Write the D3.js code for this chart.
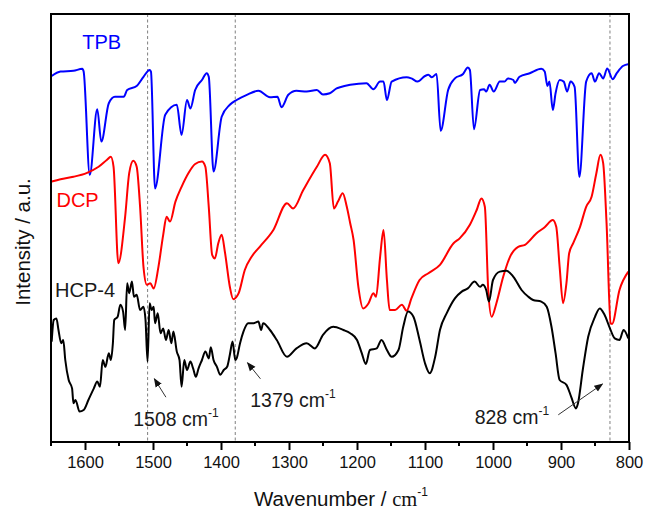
<!DOCTYPE html>
<html lang="en">
<head>
  <meta charset="UTF-8">
  <title>FTIR spectra</title>
  <script src="https://cdn.jsdelivr.net/npm/d3@7"></script>
  <style>
    body { margin: 0; padding: 0; background: #fff; }
    svg text { font-family: "Liberation Sans", Arial, sans-serif; }
  </style>
</head>
<body>
<div id="chart"></div>
<script>
// wavenumber (cm-1) / intensity (a.u.)
var tpbWn = [1649,1636,1617,1604,1602,1593,1582,1576,1565,1556,1543,1538,1524,1514,1505,1503,1497,1482,1465,1458,1450,1445,1438,1428,1421,1418,1411,1399,1387,1377,1362,1345,1328,1317,1311,1301,1289,1274,1259,1250,1240,1230,1225,1210,1186,1176,1166,1161,1156,1149,1127,1120,1111,1100,1095,1090,1083,1077,1066,1056,1044,1037,1034,1028,1019,1013,1010,1005,999,990,983,978,970,968,961,946,929,924,920,917,912,908,902,896,891,886,880,873,863,855,850,844,838,832,824,818,809,800];
var tpbVal = [91.5,92.6,92.8,93.3,92.6,66.8,83.2,75.1,84.7,86.3,86.3,88,89,91.3,93,92.6,63.4,81.8,84.3,76.8,85.5,83.4,88,90.5,92.2,91.3,67.6,81.3,84.3,85.5,86.8,87.8,86.2,86.3,83.7,86.8,87.8,87.6,88,86.9,87.2,88.4,88.7,89.3,89.7,88.2,90.1,90.1,85.5,90.1,91.2,90.9,90.1,91.5,91.8,91.2,92,77.8,88,90.9,92,93.6,93,78.2,88,88.2,87.6,89.3,87.6,90.1,90.1,90.9,90.5,89.8,91.3,92.2,93.3,92.6,89,90.1,83,87.2,90.5,90.1,87.6,90.1,88.8,66.3,90.1,92.2,90.1,92.2,90.9,93.4,90.7,92.2,94,94.5];

var dcpWn = [1649,1636,1617,1597,1580,1568,1562,1558,1551,1541,1535,1529,1524,1519,1514,1509,1504,1499,1492,1485,1480,1475,1467,1458,1448,1438,1428,1423,1418,1413,1409,1404,1399,1394,1387,1382,1374,1365,1355,1343,1323,1303,1294,1279,1259,1247,1240,1234,1228,1221,1215,1210,1205,1198,1191,1183,1176,1172,1166,1161,1156,1152,1144,1134,1127,1120,1108,1095,1078,1058,1049,1034,1024,1017,1012,1007,1002,995,985,975,963,953,936,924,912,907,902,897,892,888,882,872,863,855,848,842,838,833,827,825,814,801];
var dcpVal = [65.1,65.7,66.3,67.3,68.8,70.5,71.3,68.8,44.7,56.3,67.2,70.3,68.8,58.8,43.8,39.3,39.7,38.4,43.8,51.8,56.3,55.1,60.1,63.8,67.2,69.5,70.1,68.8,58.8,46.8,45.9,49.7,51.8,47.2,38.8,35.7,37.2,43,46.3,48.8,53,59.7,58.4,63,68.8,71.8,69.7,58.4,60.1,62.2,58.8,54.7,50.5,38.8,33.4,34.7,37.2,36.3,46.3,53,40.5,33,33,34.3,32.8,35.9,40.5,42.2,44.3,49.7,50.9,54.3,58,60.9,58.8,38,31.3,34.7,41.3,46.3,48.8,49.3,52.2,53.7,55.5,53.8,43.8,34.7,39.7,47.2,49.7,53.8,58.8,61.3,67.2,71.8,69.7,54.7,29.7,29.5,38,42.6];

var hcpWn = [1649,1646,1642,1639,1635,1632,1629,1624,1619,1617,1614,1608,1602,1595,1587,1582,1578,1574,1570,1565,1562,1559,1557,1552,1548,1544,1541,1538,1535,1531,1528,1524,1519,1514,1511,1508,1505,1502,1499,1497,1493,1489,1485,1481,1477,1473,1470,1465,1461,1458,1454,1450,1445,1441,1437,1433,1428,1423,1418,1415,1411,1406,1401,1396,1391,1387,1383,1379,1377,1372,1367,1360,1352,1345,1341,1338,1328,1318,1303,1289,1274,1262,1250,1235,1220,1210,1200,1193,1187,1181,1171,1164,1156,1149,1139,1132,1125,1117,1108,1100,1093,1085,1078,1068,1056,1046,1037,1027,1019,1015,1010,1006,1000,990,980,970,958,948,941,929,921,914,908,902,892,885,878,875,868,860,850,843,836,828,821,814,808,801];
var hcpVal = [25.1,30.5,30.9,28,24.7,25.5,20.5,15.5,13.4,9.7,10.5,7.6,8,10.5,13.4,15.1,13.8,20.5,18.8,22.2,20.5,24.7,30.5,31.3,34.3,32.6,28,39.7,37.2,40.1,36.3,36.8,33,33.8,30.5,20.1,34.7,33,33.8,29.7,32.2,27.2,28.4,25.5,28,24.7,27.6,22.6,20.5,13.8,20.5,18,20.1,18.4,16.3,18.4,20.5,22.6,20.9,23.7,20.5,18.8,16.8,18,18.8,21.8,25.1,20.5,20.9,24.7,27.6,29.7,29.7,30.1,28,29.7,28,25.5,21.3,23.4,24.7,23.4,26.8,28.8,28,27.2,25.5,22.2,19.5,23,23.4,25.5,23,21.3,23,28.8,32.6,31.3,25.5,19.7,17.2,21.3,28,32.2,35.9,37.6,38.4,40.1,38.8,39.3,38,35.1,40.5,42.6,42.8,41.3,38,36.3,35.5,35.1,33.8,28.8,22.2,15.5,14.3,11.3,8.4,9.7,18,26.3,31.3,33.4,31.8,28.4,25.9,25.5,28,25.9];

var xTicks = [1600,1500,1400,1300,1200,1100,1000,900,800];
var xMinorTicks = [1650,1550,1450,1350,1250,1150,1050,950,850];
var markers = [1508,1379,828];

var seriesNames = ["TPB","DCP","HCP-4"];
var seriesColors = ["#0000ff","#ff0000","#000000"];
var seriesLabelAt = [[1604,98.2],[1642,58.8],[1644,36.2]];

// label text position, arrow tail, arrow head (all in wavenumber / a.u.)
var notes = [
  {text:"1508 cm", at:[1529,4],   from:[1481,11.2], to:[1498,15.8]},
  {text:"1379 cm", at:[1357,8.7], from:[1342,15.8], to:[1361,19.8]},
  {text:"828 cm",  at:[1027,4.5], from:[904,6.8],   to:[839,14.5]}
];

var W = 646, H = 512;
var margin = {top:14, right:17, bottom:70, left:51};

var svg = d3.select("#chart").append("svg")
    .attr("width", W).attr("height", H);

var x = d3.scaleLinear().domain([1650,800]).range([margin.left, W - margin.right]);
var y = d3.scaleLinear().domain([0,107]).range([H - margin.bottom, margin.top]);

var defs = svg.append("defs");
defs.append("marker")
    .attr("id","arrow").attr("viewBox","0 0 10 10")
    .attr("refX",9).attr("refY",5)
    .attr("markerWidth",9).attr("markerHeight",9)
    .attr("markerUnits","userSpaceOnUse")
    .attr("orient","auto")
  .append("path").attr("d","M0,1 L10,5 L0,9 Z").attr("fill","#111");

// dashed marker lines
svg.selectAll(".vline").data(markers).enter().append("line")
    .attr("x1", d => x(d)).attr("x2", d => x(d))
    .attr("y1", y(107)).attr("y2", y(0))
    .attr("stroke","#8c8c8c").attr("stroke-width",1.1)
    .attr("stroke-dasharray","3,2.5");

var line = d3.line()
    .x(d => x(d[0])).y(d => y(d[1]))
    .curve(d3.curveMonotoneX);

var series = [
  d3.zip(tpbWn, tpbVal),
  d3.zip(dcpWn, dcpVal),
  d3.zip(hcpWn, hcpVal)
];

svg.selectAll(".spec").data(series).enter().append("path")
    .attr("d", line)
    .attr("fill","none")
    .attr("stroke", (d,i) => seriesColors[i])
    .attr("stroke-width",2)
    .attr("stroke-linejoin","round");

svg.selectAll(".slabel").data(seriesNames).enter().append("text")
    .attr("x", (d,i) => x(seriesLabelAt[i][0]))
    .attr("y", (d,i) => y(seriesLabelAt[i][1]))
    .attr("fill", (d,i) => i == 2 ? "#1a1a1a" : seriesColors[i])
    .style("font-size","20px")
    .text(d => d);

// annotations
notes.forEach(function(n){
  svg.append("line")
      .attr("x1", x(n.from[0])).attr("y1", y(n.from[1]))
      .attr("x2", x(n.to[0])).attr("y2", y(n.to[1]))
      .attr("stroke","#333").attr("stroke-width",1)
      .attr("marker-end","url(#arrow)");
  var t = svg.append("text")
      .attr("x", x(n.at[0])).attr("y", y(n.at[1]))
      .attr("fill","#1a1a1a")
      .style("font-size","19.5px")
      .text(n.text);
  t.append("tspan").attr("dy",-9).style("font-size","12px").text("-1");
});

// frame
svg.append("rect")
    .attr("x", x(1650)).attr("y", y(107))
    .attr("width", x(800) - x(1650)).attr("height", y(0) - y(107))
    .attr("fill","none").attr("stroke","#000").attr("stroke-width",2);

// bottom axis
var xAxis = d3.axisBottom(x).tickValues(xTicks).tickSize(8).tickPadding(6)
    .tickFormat(d3.format("d"));
var gx = svg.append("g").attr("transform","translate(0," + y(0) + ")").call(xAxis);
gx.select(".domain").remove();
gx.selectAll(".tick line").attr("stroke-width",2);
gx.selectAll("text").style("font-size","16.5px")
    .style("font-family","'Liberation Sans', Arial, sans-serif").attr("fill","#111");

svg.append("g").selectAll("line").data(xMinorTicks).enter().append("line")
    .attr("x1", d => x(d)).attr("x2", d => x(d))
    .attr("y1", y(0)).attr("y2", y(0) + 4)
    .attr("stroke","#000").attr("stroke-width",2);

// axis titles
var xt = svg.append("text")
    .attr("x", (x(1650) + x(800)) / 2 + 1).attr("y", 506)
    .attr("text-anchor","middle").attr("fill","#111")
    .style("font-size","20.5px")
    .text("Wavenumber / ");
xt.append("tspan").style("font-family","'Liberation Serif', 'Times New Roman', serif").text("cm");
xt.append("tspan").attr("dy",-10).style("font-size","12px").text("-1");

svg.append("text")
    .attr("transform","translate(30," + ((y(0) + y(107)) / 2 + 14) + ") rotate(-90)")
    .attr("text-anchor","middle").attr("fill","#111")
    .style("font-size","20.5px")
    .text("Intensity / a.u.");
</script>
</body>
</html>
